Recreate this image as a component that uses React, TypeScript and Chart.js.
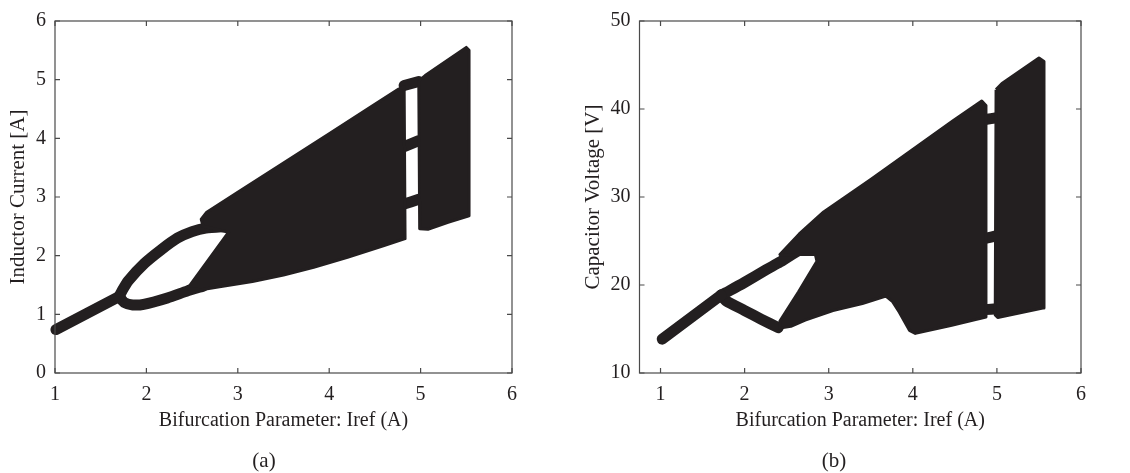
import React, { useEffect, useRef } from 'react';
import { Chart, registerables } from 'chart.js';

Chart.register(...registerables);

const INK = '#231f20';
const FRAME = '#4a4a4a';
const SERIF = '"Liberation Serif", "Times New Roman", "DejaVu Serif", serif';

const CANVAS_W = 565;
const CANVAS_H = 473;

const X_TITLE = 'Bifurcation Parameter: Iref (A)';

// ---------- panel (a): inductor current ----------
const A_X_TICKS = [1, 2, 3, 4, 5, 6];
const A_Y_TICKS = [0, 1, 2, 3, 4, 5, 6];

// period-1 branch
const A_P1_X = [1.01, 1.7];
const A_P1_Y = [0.74, 1.3];
// period-2 upper branch
const A_UP_X = [1.7, 1.74, 1.8, 1.98, 2.16, 2.34, 2.5, 2.65, 2.88];
const A_UP_Y = [1.3, 1.42, 1.57, 1.87, 2.1, 2.3, 2.41, 2.47, 2.5];
// period-2 lower branch
const A_LO_X = [1.7, 1.76, 1.85, 1.97, 2.23, 2.45, 2.62];
const A_LO_Y = [1.3, 1.2, 1.16, 1.17, 1.28, 1.4, 1.48];
// chaotic band envelope (first band)
const A_CH_X = [2.45, 2.9, 2.62, 2.6, 2.66, 3.0, 3.5, 4.0, 4.5, 4.76, 4.82, 4.83, 4.6, 4.2, 3.83, 3.5, 3.16, 2.8, 2.6];
const A_CH_Y = [1.44, 2.4, 2.5, 2.62, 2.74, 3.08, 3.58, 4.08, 4.58, 4.84, 4.88, 2.29, 2.17, 1.97, 1.8, 1.67, 1.56, 1.47, 1.42];
// chaotic band envelope (second band)
const A_B2_X = [4.98, 5.05, 5.5, 5.53, 5.53, 5.3, 5.08, 4.99];
const A_B2_Y = [4.98, 5.07, 5.55, 5.5, 2.68, 2.57, 2.45, 2.46];
// periodic window branches
const A_W1_X = [4.82, 4.98];
const A_W1_Y = [4.9, 4.97];
const A_W2_X = [4.82, 4.98];
const A_W2_Y = [3.86, 3.96];
const A_W3_X = [4.82, 4.98];
const A_W3_Y = [2.88, 2.96];

// ---------- panel (b): capacitor voltage ----------
const B_X_TICKS = [1, 2, 3, 4, 5, 6];
const B_Y_TICKS = [10, 20, 30, 40, 50];

const B_P1_X = [1.02, 1.72];
const B_P1_Y = [13.85, 18.85];
const B_UP_X = [1.72, 1.82, 2.0, 2.25, 2.42, 2.68, 2.84];
const B_UP_Y = [18.85, 19.35, 20.3, 21.7, 22.6, 24.1, 24.2];
const B_LO_X = [1.72, 1.78, 2.0, 2.2, 2.4];
const B_LO_Y = [18.85, 18.2, 17.1, 16.1, 15.15];
const B_CH_X = [2.84, 2.86, 2.64, 2.42, 2.42, 2.55, 2.72, 3.05, 3.4, 3.68, 3.76, 3.84, 3.96, 4.03, 4.45, 4.87, 4.87, 4.82, 4.47, 4.0, 3.5, 3.0, 2.94, 2.65, 2.42];
const B_CH_Y = [23.5, 22.7, 19.2, 15.9, 15.1, 15.3, 16.0, 17.1, 17.9, 18.75, 18.1, 16.9, 14.85, 14.5, 15.4, 16.35, 40.4, 40.9, 38.6, 35.4, 32.0, 28.7, 28.3, 25.8, 23.45];
const B_B2_X = [4.99, 5.06, 5.5, 5.56, 5.56, 5.01, 4.98];
const B_B2_Y = [42.2, 42.9, 45.8, 45.4, 17.4, 16.3, 16.6];
const B_W1_X = [4.86, 5.0];
const B_W1_Y = [38.8, 39.0];
const B_W2_X = [4.86, 5.0];
const B_W2_Y = [25.3, 25.6];
const B_W3_X = [4.86, 5.0];
const B_W3_Y = [17.2, 17.3];

type Pt = { x: number; y: number };
const zip = (xs: number[], ys: number[]): Pt[] => xs.map((x, i) => ({ x, y: ys[i] }));

function branch(xs: number[], ys: number[]) {
  return {
    data: zip(xs, ys),
    showLine: true,
    borderColor: INK,
    backgroundColor: INK,
    borderWidth: 11,
    borderCapStyle: 'round',
    borderJoinStyle: 'round',
    pointRadius: 0,
    pointHoverRadius: 0,
    fill: false,
    tension: 0.2,
    clip: 8,
  };
}

function region(xs: number[], ys: number[]) {
  const d = zip(xs, ys);
  d.push({ ...d[0] });
  return {
    data: d,
    showLine: true,
    borderColor: INK,
    backgroundColor: INK,
    borderWidth: 3,
    borderJoinStyle: 'round',
    pointRadius: 0,
    pointHoverRadius: 0,
    fill: 'shape',
    tension: 0,
  };
}

const framePlugin = {
  id: 'matlabFrame',
  afterDraw(chart: any) {
    const { ctx, chartArea } = chart;
    const { left, right, top, bottom } = chartArea;
    const xs = chart.scales.x;
    const ys = chart.scales.y;
    const L = 5;
    ctx.save();
    ctx.strokeStyle = FRAME;
    ctx.lineWidth = 1.2;
    ctx.strokeRect(left, top, right - left, bottom - top);
    ctx.beginPath();
    xs.ticks.forEach((t: any) => {
      const p = xs.getPixelForValue(t.value);
      ctx.moveTo(p, bottom);
      ctx.lineTo(p, bottom - L);
      ctx.moveTo(p, top);
      ctx.lineTo(p, top + L);
    });
    ys.ticks.forEach((t: any) => {
      const p = ys.getPixelForValue(t.value);
      ctx.moveTo(left, p);
      ctx.lineTo(left + L, p);
      ctx.moveTo(right, p);
      ctx.lineTo(right - L, p);
    });
    ctx.stroke();
    ctx.restore();
  },
};

interface PanelSpec {
  datasets: any[];
  xMin: number;
  xMax: number;
  yMin: number;
  yMax: number;
  xTicks: number[];
  yTicks: number[];
  yTitle: string;
  yAxisWidth: number;
  plotRight: number;
  yTitlePad: number;
  yTickPad: number;
}

function makeConfig(s: PanelSpec): any {
  return {
    type: 'scatter',
    data: { datasets: s.datasets },
    options: {
      responsive: false,
      maintainAspectRatio: false,
      animation: false,
      events: [],
      layout: { padding: { left: 0, top: 17, right: CANVAS_W - s.plotRight, bottom: 0 } },
      plugins: {
        legend: { display: false },
        tooltip: { enabled: false },
        title: { display: false },
      },
      scales: {
        x: {
          type: 'linear',
          min: s.xMin,
          max: s.xMax,
          afterBuildTicks: (sc: any) => {
            sc.ticks = s.xTicks.map((v) => ({ value: v }));
          },
          afterFit: (sc: any) => {
            sc.height = CANVAS_H - 373;
          },
          grid: { display: false, drawTicks: false },
          border: { display: false },
          ticks: {
            color: INK,
            font: { family: SERIF, size: 20 },
            padding: 10,
            maxRotation: 0,
            autoSkip: false,
          },
          title: {
            display: true,
            text: X_TITLE,
            color: INK,
            font: { family: SERIF, size: 20 },
            padding: { top: 0, bottom: 40 },
          },
        },
        y: {
          type: 'linear',
          min: s.yMin,
          max: s.yMax,
          afterBuildTicks: (sc: any) => {
            sc.ticks = s.yTicks.map((v) => ({ value: v }));
          },
          afterFit: (sc: any) => {
            sc.width = s.yAxisWidth;
          },
          grid: { display: false, drawTicks: false },
          border: { display: false },
          ticks: {
            color: INK,
            font: { family: SERIF, size: 20 },
            padding: s.yTickPad,
            autoSkip: false,
          },
          title: {
            display: true,
            text: s.yTitle,
            color: INK,
            font: { family: SERIF, size: 21 },
            padding: { top: s.yTitlePad, bottom: 0 },
          },
        },
      },
    },
    plugins: [framePlugin],
  };
}

const PANEL_A: PanelSpec = {
  datasets: [
    region(A_CH_X, A_CH_Y),
    region(A_B2_X, A_B2_Y),
    branch(A_P1_X, A_P1_Y),
    branch(A_UP_X, A_UP_Y),
    branch(A_LO_X, A_LO_Y),
    branch(A_W1_X, A_W1_Y),
    branch(A_W2_X, A_W2_Y),
    branch(A_W3_X, A_W3_Y),
  ],
  xMin: 1,
  xMax: 6,
  yMin: 0,
  yMax: 6,
  xTicks: A_X_TICKS,
  yTicks: A_Y_TICKS,
  yTitle: 'Inductor Current [A]',
  yAxisWidth: 55,
  plotRight: 512,
  yTitlePad: 6,
  yTickPad: 9,
};

const PANEL_B: PanelSpec = {
  datasets: [
    region(B_CH_X, B_CH_Y),
    region(B_B2_X, B_B2_Y),
    branch(B_P1_X, B_P1_Y),
    branch(B_UP_X, B_UP_Y),
    branch(B_LO_X, B_LO_Y),
    branch(B_W1_X, B_W1_Y),
    branch(B_W2_X, B_W2_Y),
    branch(B_W3_X, B_W3_Y),
  ],
  xMin: 0.75,
  xMax: 6,
  yMin: 10,
  yMax: 50,
  xTicks: B_X_TICKS,
  yTicks: B_Y_TICKS,
  yTitle: 'Capacitor Voltage [V]',
  yAxisWidth: 74.5,
  plotRight: 516,
  yTitlePad: 16,
  yTickPad: 9,
};

function Panel({ spec, left, label, labelX }: { spec: PanelSpec; left: number; label: string; labelX: number }) {
  const ref = useRef<HTMLCanvasElement | null>(null);
  useEffect(() => {
    if (!ref.current) return;
    const chart = new Chart(ref.current, makeConfig(spec));
    return () => chart.destroy();
  }, [spec]);
  return (
    <>
      <canvas
        ref={ref}
        width={CANVAS_W}
        height={CANVAS_H}
        style={{ position: 'absolute', left, top: 0, width: CANVAS_W, height: CANVAS_H, display: 'block' }}
      />
      <div
        style={{
          position: 'absolute',
          left: labelX - 40,
          top: 460 - 13,
          width: 80,
          height: 26,
          lineHeight: '26px',
          textAlign: 'center',
          fontFamily: SERIF,
          fontSize: 21,
          color: INK,
        }}
      >
        {label}
      </div>
    </>
  );
}

export default function App() {
  return (
    <div style={{ position: 'absolute', left: 0, top: 0, width: 1130, height: 473, background: '#ffffff', overflow: 'hidden' }}>
      <Panel spec={PANEL_A} left={0} label="(a)" labelX={264} />
      <Panel spec={PANEL_B} left={565} label="(b)" labelX={834} />
    </div>
  );
}
